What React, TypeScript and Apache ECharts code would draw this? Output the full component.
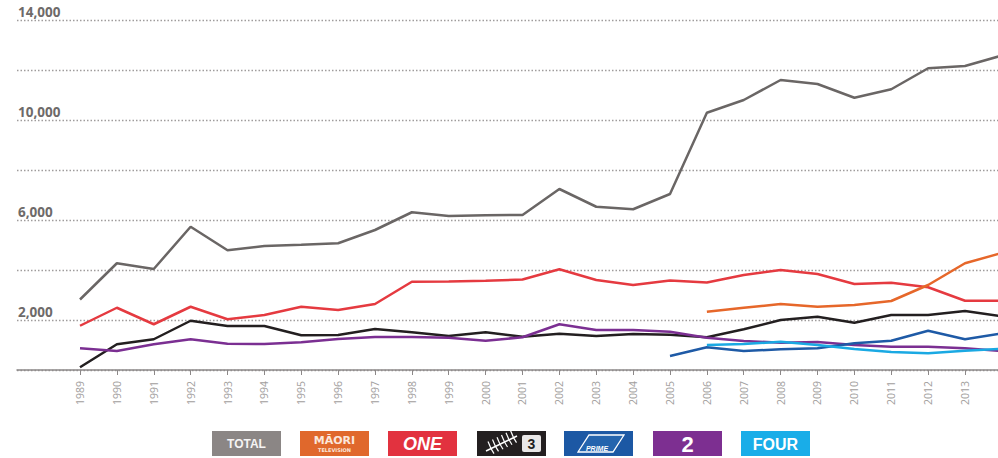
import { useEffect, useRef } from 'react';
import * as echarts from 'echarts';

const years = [1989, 1990, 1991, 1992, 1993, 1994, 1995, 1996, 1997, 1998, 1999, 2000, 2001, 2002, 2003, 2004, 2005, 2006, 2007, 2008, 2009, 2010, 2011, 2012, 2013, 2014];
const totalValues = [2820, 4270, 4040, 5730, 4790, 4960, 5010, 5070, 5600, 6310, 6160, 6190, 6200, 7240, 6530, 6430, 7040, 10290, 10800, 11600, 11440, 10890, 11230, 12070, 12160, 12580];
const oneValues = [1770, 2490, 1830, 2530, 2030, 2200, 2530, 2400, 2640, 3530, 3540, 3570, 3620, 4030, 3600, 3400, 3580, 3500, 3800, 4000, 3840, 3440, 3490, 3310, 2770, 2770];
const tv3Values = [110, 1030, 1230, 1970, 1760, 1760, 1390, 1400, 1640, 1510, 1360, 1510, 1330, 1450, 1360, 1440, 1410, 1310, 1630, 2000, 2130, 1890, 2200, 2200, 2360, 2150];
const tv2Values = [870, 760, 1030, 1230, 1050, 1040, 1110, 1240, 1320, 1320, 1290, 1170, 1310, 1830, 1600, 1600, 1530, 1290, 1160, 1090, 1120, 1000, 930, 930, 870, 760];
const maoriYears = [2006, 2007, 2008, 2009, 2010, 2011, 2012, 2013, 2014];
const maoriValues = [2330, 2490, 2640, 2530, 2600, 2760, 3400, 4270, 4680];
const primeYears = [2005, 2006, 2007, 2008, 2009, 2010, 2011, 2012, 2013, 2014];
const primeValues = [560, 910, 760, 830, 870, 1070, 1170, 1570, 1230, 1465];
const fourYears = [2006, 2007, 2008, 2009, 2010, 2011, 2012, 2013, 2014];
const fourValues = [1000, 1040, 1130, 1000, 840, 720, 670, 770, 850];

const yLabelValues = [2000, 6000, 10000, 14000];
const yLabelTexts = ['2,000', '6,000', '10,000', '14,000'];

const X_MIN = 1987.2915;
const X_MAX = 2013.895;

function pairs(xs: number[], vs: number[]) {
  return xs.map((x, i) => [x, vs[i]]);
}

const LBX = [212, 300, 388, 477, 564, 653, 741];
const LBY = 431;
const LBW = 69;
const LBH = 25;

function legendGraphics() {
  const white = '#ffffff';
  const box = (i: number, color: string) => ({
    type: 'rect', shape: { x: LBX[i], y: LBY, width: LBW, height: LBH }, style: { fill: color },
  });
  const cx = (i: number) => LBX[i] + LBW / 2;
  const cy = LBY + LBH / 2;
  const els: any[] = [];
  // TOTAL
  els.push(box(0, '#8b8685'));
  els.push({ type: 'text', x: cx(0), y: cy + 0.5, style: { text: 'TOTAL', fill: '#f6f4f4', font: 'bold 12px "Liberation Sans", Arial', align: 'center', verticalAlign: 'middle' } });
  // MAORI
  els.push(box(1, '#e0682c'));
  els.push({ type: 'text', x: cx(1), y: cy - 3, style: { text: 'MĀORI', fill: '#fbe7dc', font: 'bold 11px "DejaVu Sans", Arial', align: 'center', verticalAlign: 'middle' } });
  els.push({ type: 'text', x: cx(1), y: cy + 6, style: { text: 'TELEVISION', fill: '#fbe7dc', font: 'bold 5px "DejaVu Sans", Arial', align: 'center', verticalAlign: 'middle' } });
  // ONE
  els.push(box(2, '#e2323f'));
  els.push({ type: 'text', x: cx(2), y: cy + 0.5, style: { text: 'ONE', fill: white, font: 'italic 900 18px "Liberation Sans", Arial', align: 'center', verticalAlign: 'middle' } });
  // TV3
  els.push(box(3, '#231f20'));
  const fx = LBX[3];
  els.push({ type: 'line', shape: { x1: fx + 9, y1: LBY + 20, x2: fx + 40, y2: LBY + 5 }, style: { stroke: white, lineWidth: 1.5 } });
  for (let k = 0; k < 6; k++) {
    const px = fx + 14 + k * 4.5;
    const py = LBY + 17.6 - k * 2.2;
    els.push({ type: 'line', shape: { x1: px, y1: py, x2: px - 3, y2: py - 7 }, style: { stroke: white, lineWidth: 1.2 } });
    els.push({ type: 'line', shape: { x1: px, y1: py, x2: px + 3, y2: py + 5 }, style: { stroke: white, lineWidth: 1.2 } });
  }
  els.push({ type: 'rect', shape: { x: fx + 45, y: LBY + 4, width: 19, height: 17, r: 2 }, style: { fill: '#e9e7e7' } });
  els.push({ type: 'text', x: fx + 54.5, y: cy + 0.5, style: { text: '3', fill: '#231f20', font: 'bold 14px "Liberation Sans", Arial', align: 'center', verticalAlign: 'middle' } });
  // PRIME
  els.push(box(4, '#1c58a4'));
  const p = LBX[4];
  els.push({ type: 'polygon', shape: { points: [[p + 14, LBY + 21], [p + 25, LBY + 4], [p + 60, LBY + 4], [p + 49, LBY + 21]] }, style: { fill: '#2464ae', stroke: white, lineWidth: 1.3 } });
  els.push({ type: 'text', x: p + 33, y: LBY + 17, style: { text: 'PRIME', fill: white, font: 'italic bold 7px "Liberation Sans", Arial', align: 'center', verticalAlign: 'middle' } });
  // 2
  els.push(box(5, '#7d2f91'));
  els.push({ type: 'text', x: cx(5), y: cy + 1, style: { text: '2', fill: white, font: 'bold 22px "Liberation Sans", Arial', align: 'center', verticalAlign: 'middle' } });
  // FOUR
  els.push(box(6, '#19ade8'));
  els.push({ type: 'text', x: cx(6), y: cy + 0.5, style: { text: 'FOUR', fill: white, font: 'bold 16px "Liberation Sans", Arial', align: 'center', verticalAlign: 'middle' } });
  return els;
}

export default function App() {
  const ref = useRef<HTMLDivElement>(null);
  useEffect(() => {
    if (!ref.current) return;
    const chart = echarts.init(ref.current, undefined, { renderer: 'svg' });
    const tickYears = years.filter((y) => y <= X_MAX);
    const line = (name: string, data: number[][], color: string) => ({
      name, type: 'line', data, symbol: 'none', clip: true,
      lineStyle: { color, width: 2.5 }, itemStyle: { color },
    });
    chart.setOption({
      animation: false,
      backgroundColor: '#ffffff',
      grid: { left: 17, right: 0, top: 20, bottom: 88 },
      xAxis: {
        type: 'value', min: X_MIN, max: X_MAX,
        axisLine: { show: true, lineStyle: { color: '#8c8888', width: 1.5 } },
        axisTick: { show: true, customValues: tickYears, length: 5, lineStyle: { color: '#8c8888', width: 1 } },
        axisLabel: {
          customValues: tickYears, rotate: 90, margin: 11,
          formatter: (v: number) => String(v),
          color: '#a29e9d', fontSize: 10.5, fontFamily: '"Open Sans", sans-serif',
        },
        splitLine: { show: false },
      },
      yAxis: {
        type: 'value', min: 0, max: 14000, interval: 2000,
        axisLine: { show: false }, axisTick: { show: false },
        splitLine: { lineStyle: { type: [1.5, 2], color: '#9f9c9c', width: 1.3 } },
        axisLabel: {
          inside: true, margin: 1, verticalAlign: 'bottom',
          formatter: (v: number) => {
            const i = yLabelValues.indexOf(v);
            return i >= 0 ? yLabelTexts[i] : '';
          },
          color: '#6e6a69', fontWeight: 'bold', fontSize: 13.5, fontFamily: '"Open Sans", sans-serif',
          padding: [0, 0, 1, 0],
        },
      },
      series: [
        line('TOTAL', pairs(years, totalValues), '#6a6665'),
        line('ONE', pairs(years, oneValues), '#e53a40'),
        line('MĀORI TELEVISION', pairs(maoriYears, maoriValues), '#e6672a'),
        line('TV3', pairs(years, tv3Values), '#231f20'),
        line('TV2', pairs(years, tv2Values), '#7b2f92'),
        line('PRIME', pairs(primeYears, primeValues), '#1e5aa6'),
        line('FOUR', pairs(fourYears, fourValues), '#1aa9e3'),
      ],
      graphic: legendGraphics(),
    });
    return () => chart.dispose();
  }, []);
  return <div ref={ref} style={{ position: 'fixed', left: 0, top: 0, width: 998, height: 458 }} />;
}
